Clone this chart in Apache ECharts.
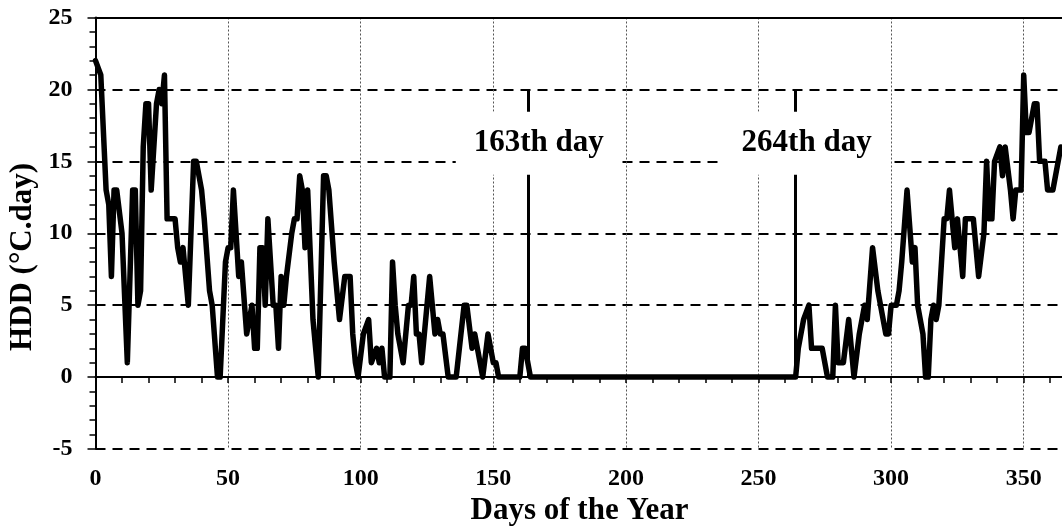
<!DOCTYPE html>
<html>
<head>
<meta charset="utf-8">
<script src="https://cdn.jsdelivr.net/npm/echarts@6/dist/echarts.min.js"></script>
<style>
  html, body { margin: 0; padding: 0; background: #fff; }
  #chart { width: 1062px; height: 529px; }
</style>
</head>
<body>
<div id="chart"></div>
<script>
// Daily heating degree-days over the year (day of year, HDD in °C.day)
const days = [
  0, 2, 4, 5, 6, 7, 8, 10, 12, 14, 15, 16, 17, 18, 19, 20, 21, 23, 24, 25, 26, 27, 30, 31, 32, 33, 35, 37, 38, 40,
  41, 43, 44, 46, 47, 49, 50, 51, 52, 54, 55, 57, 59, 60, 61, 62, 63, 64, 65, 67, 68, 69, 70, 71, 72, 74, 75, 76, 77, 78,
  79, 80, 82, 84, 86, 87, 88, 90, 92, 94, 96, 97, 98, 99, 101, 103, 104, 106, 107, 108, 109, 111, 112, 113, 114, 116, 118, 119, 120, 121,
  122, 123, 126, 128, 129, 130, 131, 133, 136, 139, 140, 142, 143, 144, 146, 148, 150, 151, 152, 160, 161, 162, 164, 264, 265, 267, 269, 270, 274, 276,
  278, 279, 280, 282, 284, 286, 288, 290, 291, 293, 295, 298, 299, 300, 302, 303, 304, 306, 308, 309, 310, 312, 313, 314, 315, 316, 317, 318, 320, 321,
  322, 324, 325, 327, 328, 331, 333, 335, 336, 337, 338, 339, 341, 342, 343, 345, 346, 347, 349, 350, 351, 352, 354, 355, 356, 358, 359, 361, 364
];
const hdd = [
  22, 21, 13, 12, 7, 13, 13, 10, 1, 13, 13, 5, 6, 16, 19, 19, 13, 19, 20, 19, 21, 11, 11, 9, 8, 9, 5, 15, 15, 13,
  11, 6, 5, 0, 0, 8, 9, 9, 13, 7, 8, 3, 5, 2, 2, 9, 9, 5, 11, 5, 5, 2, 7, 5, 7, 10, 11, 11, 14, 13,
  9, 13, 4, 0, 14, 14, 13, 8, 4, 7, 7, 3, 1, 0, 3, 4, 1, 2, 1, 2, 0, 0, 8, 5, 3, 1, 5, 5, 7, 3,
  3, 1, 7, 3, 4, 3, 3, 0, 0, 5, 5, 2, 3, 2, 0, 3, 1, 1, 0, 0, 2, 2, 0, 0, 2, 4, 5, 2, 2, 0,
  0, 5, 1, 1, 4, 0, 3, 5, 4, 9, 6, 3, 3, 5, 5, 6, 8, 13, 8, 9, 5, 3, 0, 0, 4, 5, 4, 5, 11, 11,
  13, 9, 11, 7, 11, 11, 7, 10, 15, 11, 11, 15, 16, 14, 16, 13, 11, 13, 13, 21, 17, 17, 19, 19, 15, 15, 13, 13, 16
];

// Days marked with a vertical line and a caption
const markerDays = [163, 264];
const markerTop = 20;
const captionLevel = 15;

const FONT = '"Liberation Serif", "Times New Roman", serif';

const chart = echarts.init(document.getElementById('chart'), null, { renderer: 'canvas' });

const option = {
  animation: false,
  backgroundColor: '#fff',
  grid: {
    left: 95.5, right: -1.5, top: 17.5, bottom: 80,
    containLabel: false,
    outerBoundsMode: 'none'
  },
  xAxis: [
    {
      type: 'value',
      min: 0,
      max: 365,
      interval: 50,
      axisLine: { show: true, lineStyle: { color: '#000', width: 2 } },
      axisTick: { show: true, length: 6, lineStyle: { color: '#000', width: 1.5 } },
      minorTick: { show: true, splitNumber: 5, length: 6, lineStyle: { color: '#000', width: 1.5 } },
      axisLabel: {
        margin: 18, fontSize: 24, fontWeight: 'bold', fontFamily: FONT, color: '#000',
        showMaxLabel: false
      },
      splitLine: { show: true, lineStyle: { type: [2, 2], color: '#555', width: 1 } },
      name: 'Days of the Year',
      nameLocation: 'middle',
      nameGap: 32,
      nameTextStyle: { fontSize: 31, fontWeight: 'bold', fontFamily: FONT, color: '#000' }
    },
    {
      type: 'value',
      position: 'top',
      min: 0,
      max: 365,
      axisLine: { show: true, lineStyle: { color: '#000', width: 2 } },
      axisTick: { show: false },
      axisLabel: { show: false },
      splitLine: { show: false }
    }
  ],
  yAxis: {
    type: 'value',
    min: -5,
    max: 25,
    interval: 5,
    axisLine: { show: true, lineStyle: { color: '#000', width: 2 } },
    axisTick: { show: true, length: 8, lineStyle: { color: '#000', width: 1.5 } },
    minorTick: { show: true, splitNumber: 5, length: 6, lineStyle: { color: '#000', width: 1.5 } },
    axisLabel: { margin: 23, fontSize: 24, fontWeight: 'bold', fontFamily: FONT, color: '#000' },
    splitLine: { show: true, lineStyle: { type: [10, 7], color: '#000', width: 2 } }
  },
  graphic: [
    {
      type: 'text',
      x: 23,
      y: 257,
      rotation: Math.PI / 2,
      style: {
        text: 'HDD (°C.day)',
        font: 'bold 31px ' + FONT,
        fill: '#000',
        textAlign: 'center',
        textVerticalAlign: 'middle',
        verticalAlign: 'middle'
      }
    }
  ],
  series: [
    {
      type: 'line',
      name: 'HDD',
      data: days.map((d, i) => [d, hdd[i]]),
      symbol: 'none',
      clip: true,
      z: 2,
      lineStyle: { color: '#000', width: 5.5, join: 'round', cap: 'round' },
      markLine: {
        silent: true,
        symbol: 'none',
        animation: false,
        label: { show: false },
        lineStyle: { color: '#000', width: 3, type: 'solid' },
        data: markerDays.map(d => [{ coord: [d, 0] }, { coord: [d, markerTop] }])
      }
    },
    {
      type: 'scatter',
      name: 'captions',
      data: markerDays.map(d => [d, captionLevel]),
      symbolSize: 0,
      silent: true,
      z: 10,
      itemStyle: { opacity: 1 },
      label: {
        show: true,
        position: 'inside',
        formatter: p => p.value[0] + 'th day',
        offset: [11, -18],
        backgroundColor: '#fff',
        padding: [16, 18],
        fontSize: 31,
        fontWeight: 'bold',
        fontFamily: FONT,
        color: '#000',
        opacity: 1
      }
    }
  ]
};

chart.setOption(option);
</script>
</body>
</html>
